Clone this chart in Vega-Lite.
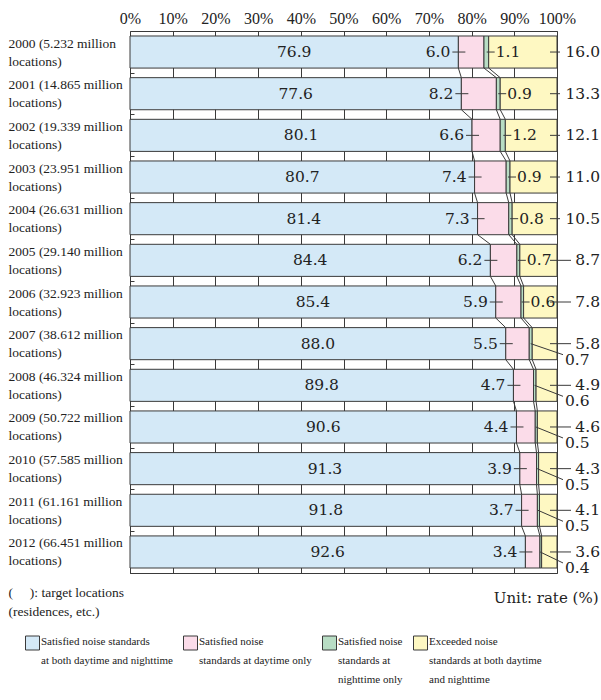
{
  "$schema": "https://vega.github.io/schema/vega-lite/v6.json",
  "width": 427,
  "height": 542,
  "autosize": {"type": "none"},
  "padding": {"left": 130, "top": 31, "right": 44, "bottom": 127},
  "background": "white",
  "config": {"view": {"stroke": "#3a3a3a", "strokeWidth": 1}, "font": "'Liberation Serif', Tinos, 'Times New Roman', serif"},
  "data": {"values": [
    {"year": 2000, "yr": "2000 (5.232 million locations)", "cat": "c1", "v": 76.9},
    {"year": 2000, "yr": "2000 (5.232 million locations)", "cat": "c2", "v": 6.0},
    {"year": 2000, "yr": "2000 (5.232 million locations)", "cat": "c3", "v": 1.1},
    {"year": 2000, "yr": "2000 (5.232 million locations)", "cat": "c4", "v": 16.0},
    {"year": 2001, "yr": "2001 (14.865 million locations)", "cat": "c1", "v": 77.6},
    {"year": 2001, "yr": "2001 (14.865 million locations)", "cat": "c2", "v": 8.2},
    {"year": 2001, "yr": "2001 (14.865 million locations)", "cat": "c3", "v": 0.9},
    {"year": 2001, "yr": "2001 (14.865 million locations)", "cat": "c4", "v": 13.3},
    {"year": 2002, "yr": "2002 (19.339 million locations)", "cat": "c1", "v": 80.1},
    {"year": 2002, "yr": "2002 (19.339 million locations)", "cat": "c2", "v": 6.6},
    {"year": 2002, "yr": "2002 (19.339 million locations)", "cat": "c3", "v": 1.2},
    {"year": 2002, "yr": "2002 (19.339 million locations)", "cat": "c4", "v": 12.1},
    {"year": 2003, "yr": "2003 (23.951 million locations)", "cat": "c1", "v": 80.7},
    {"year": 2003, "yr": "2003 (23.951 million locations)", "cat": "c2", "v": 7.4},
    {"year": 2003, "yr": "2003 (23.951 million locations)", "cat": "c3", "v": 0.9},
    {"year": 2003, "yr": "2003 (23.951 million locations)", "cat": "c4", "v": 11.0},
    {"year": 2004, "yr": "2004 (26.631 million locations)", "cat": "c1", "v": 81.4},
    {"year": 2004, "yr": "2004 (26.631 million locations)", "cat": "c2", "v": 7.3},
    {"year": 2004, "yr": "2004 (26.631 million locations)", "cat": "c3", "v": 0.8},
    {"year": 2004, "yr": "2004 (26.631 million locations)", "cat": "c4", "v": 10.5},
    {"year": 2005, "yr": "2005 (29.140 million locations)", "cat": "c1", "v": 84.4},
    {"year": 2005, "yr": "2005 (29.140 million locations)", "cat": "c2", "v": 6.2},
    {"year": 2005, "yr": "2005 (29.140 million locations)", "cat": "c3", "v": 0.7},
    {"year": 2005, "yr": "2005 (29.140 million locations)", "cat": "c4", "v": 8.7},
    {"year": 2006, "yr": "2006 (32.923 million locations)", "cat": "c1", "v": 85.4},
    {"year": 2006, "yr": "2006 (32.923 million locations)", "cat": "c2", "v": 5.9},
    {"year": 2006, "yr": "2006 (32.923 million locations)", "cat": "c3", "v": 0.6},
    {"year": 2006, "yr": "2006 (32.923 million locations)", "cat": "c4", "v": 7.8},
    {"year": 2007, "yr": "2007 (38.612 million locations)", "cat": "c1", "v": 88.0},
    {"year": 2007, "yr": "2007 (38.612 million locations)", "cat": "c2", "v": 5.5},
    {"year": 2007, "yr": "2007 (38.612 million locations)", "cat": "c3", "v": 0.7},
    {"year": 2007, "yr": "2007 (38.612 million locations)", "cat": "c4", "v": 5.8},
    {"year": 2008, "yr": "2008 (46.324 million locations)", "cat": "c1", "v": 89.8},
    {"year": 2008, "yr": "2008 (46.324 million locations)", "cat": "c2", "v": 4.7},
    {"year": 2008, "yr": "2008 (46.324 million locations)", "cat": "c3", "v": 0.6},
    {"year": 2008, "yr": "2008 (46.324 million locations)", "cat": "c4", "v": 4.9},
    {"year": 2009, "yr": "2009 (50.722 million locations)", "cat": "c1", "v": 90.6},
    {"year": 2009, "yr": "2009 (50.722 million locations)", "cat": "c2", "v": 4.4},
    {"year": 2009, "yr": "2009 (50.722 million locations)", "cat": "c3", "v": 0.5},
    {"year": 2009, "yr": "2009 (50.722 million locations)", "cat": "c4", "v": 4.6},
    {"year": 2010, "yr": "2010 (57.585 million locations)", "cat": "c1", "v": 91.3},
    {"year": 2010, "yr": "2010 (57.585 million locations)", "cat": "c2", "v": 3.9},
    {"year": 2010, "yr": "2010 (57.585 million locations)", "cat": "c3", "v": 0.5},
    {"year": 2010, "yr": "2010 (57.585 million locations)", "cat": "c4", "v": 4.3},
    {"year": 2011, "yr": "2011 (61.161 million locations)", "cat": "c1", "v": 91.8},
    {"year": 2011, "yr": "2011 (61.161 million locations)", "cat": "c2", "v": 3.7},
    {"year": 2011, "yr": "2011 (61.161 million locations)", "cat": "c3", "v": 0.5},
    {"year": 2011, "yr": "2011 (61.161 million locations)", "cat": "c4", "v": 4.1},
    {"year": 2012, "yr": "2012 (66.451 million locations)", "cat": "c1", "v": 92.6},
    {"year": 2012, "yr": "2012 (66.451 million locations)", "cat": "c2", "v": 3.4},
    {"year": 2012, "yr": "2012 (66.451 million locations)", "cat": "c3", "v": 0.4},
    {"year": 2012, "yr": "2012 (66.451 million locations)", "cat": "c4", "v": 3.6}
  ]},
  "encoding": {
    "y": {
      "field": "yr", "type": "nominal", "sort": "ascending",
      "scale": {"paddingInner": 0.23, "paddingOuter": 0.12},
      "axis": {
        "title": ["(\u00a0\u00a0\u00a0\u00a0\u00a0): target locations", "(residences, etc.)"],
        "titleAngle": 0, "titleAlign": "left", "titleBaseline": "top",
        "titleX": -122, "titleY": 554, "titleFontSize": 13.5,
        "titleFontWeight": "normal", "titleColor": "#222", "titleLineHeight": 19,
        "labelExpr": "[replace(datum.label, ' locations)', ''), 'locations)']",
        "labelAlign": "left", "labelBaseline": "middle", "labelLineHeight": 18,
        "labelPadding": 126, "labelFontSize": 13.5, "labelColor": "#222",
        "labelLimit": 200, "labelOffset": -29.8, "tickOffset": 20.8,
        "domain": false, "grid": false, "ticks": true, "tickSize": -4,
        "tickColor": "#3a3a3a", "tickWidth": 1
      }
    }
  },
  "layer": [
    {
      "mark": {"type": "bar", "stroke": "#3a3a3a", "strokeWidth": 1},
      "encoding": {
        "x": {
          "field": "v", "type": "quantitative", "stack": "normalize",
          "scale": {"domain": [0, 1], "nice": false},
          "axis": {
            "orient": "top", "values": [0, 0.1, 0.2, 0.3, 0.4, 0.5, 0.6, 0.7, 0.8, 0.9, 1],
            "format": ".0%", "grid": true, "gridColor": "#3a3a3a", "gridOpacity": 1, "gridWidth": 1,
            "ticks": false, "domain": false, "labelFlush": false,
            "labelFontSize": 16, "labelColor": "#222", "labelPadding": 5,
            "title": "Unit: rate (%)", "titleX": 468, "titleY": 566, "titleAlign": "right",
            "titleAnchor": null, "titleBaseline": "middle", "titleFont": "DejaVu Serif", "titleFontSize": 15,
            "titleFontWeight": "normal", "titleColor": "#222"
          }
        },
        "color": {
          "field": "cat", "type": "nominal",
          "scale": {"domain": ["c1", "c2", "c3", "c4"], "range": ["#d4e9f7", "#fbdce9", "#b8ddc4", "#fef8c2"]},
          "legend": {
            "orient": "none", "legendX": -105, "legendY": 605, "direction": "horizontal", "columns": 4,
            "title": null, "symbolType": "square", "symbolSize": 196, "symbolStrokeColor": "#3a3a3a",
            "symbolStrokeWidth": 1, "symbolOpacity": 1,
            "labelExpr": "datum.label == 'c1' ? ['Satisfied noise standards', 'at both daytime and nighttime', '\u00a0'] : datum.label == 'c2' ? ['Satisfied noise', 'standards at daytime only', '\u00a0'] : datum.label == 'c3' ? ['Satisfied noise', 'standards at', 'nighttime only'] : ['Exceeded noise', 'standards at both daytime', ' and nighttime']",
            "labelFontSize": 11, "labelColor": "#222",
            "labelBaseline": "top", "labelLimit": 400, "labelOffset": 1,
            "columnPadding": 8,
            "encode": {
              "symbols": {"update": {"y": {"value": 7}}},
              "labels": {"update": {"y": {"value": 0}, "baseline": {"value": "top"}, "lineHeight": {"value": 19}}}
            }
          }
        },
        "order": {"field": "cat", "type": "ordinal", "sort": "ascending"}
      }
    },
    {
      "transform": [
        {"stack": "v", "groupby": ["yr"], "sort": [{"field": "cat"}], "as": ["s0", "s1"], "offset": "normalize"},
        {"window": [{"op": "lead", "field": "s1", "as": "n1"}, {"op": "lead", "field": "yr", "as": "nyr"}],
         "groupby": ["cat"], "sort": [{"field": "year", "order": "ascending"}]},
        {"filter": "datum.cat != 'c4' && isValid(datum.nyr)"}
      ],
      "mark": {"type": "rule", "stroke": "#3a3a3a", "strokeWidth": 1, "yOffset": 16, "y2Offset": -16},
      "encoding": {
        "x": {"field": "s1", "type": "quantitative"},
        "x2": {"field": "n1"},
        "y2": {"field": "nyr"}
      }
    },
    {
      "transform": [
        {"stack": "v", "groupby": ["yr"], "sort": [{"field": "cat"}], "as": ["s0", "s1"], "offset": "normalize"},
        {"filter": "datum.cat == 'c1'"},
        {"fold": ["s0", "s1"], "as": ["k", "p"]},
        {"aggregate": [{"op": "mean", "field": "p", "as": "mid"}], "groupby": ["yr", "v"]}
      ],
      "mark": {"type": "text", "font": "DejaVu Serif", "fontSize": 15.5, "fill": "#222", "baseline": "middle"},
      "encoding": {
        "x": {"field": "mid", "type": "quantitative"},
        "text": {"field": "v", "type": "quantitative", "format": ".1f"}
      }
    },
    {
      "transform": [
        {"stack": "v", "groupby": ["yr"], "sort": [{"field": "cat"}], "as": ["s0", "s1"], "offset": "normalize"},
        {"filter": "datum.cat == 'c2'"}
      ],
      "layer": [
        {
          "mark": {"type": "rule", "stroke": "#3a3a3a", "strokeWidth": 1, "xOffset": -6, "x2Offset": 7},
          "encoding": {"x": {"field": "s0", "type": "quantitative"}, "x2": {"field": "s0"}}
        },
        {
          "mark": {"type": "text", "font": "DejaVu Serif", "fontSize": 15.5, "fill": "#222", "align": "right", "baseline": "middle", "dx": -8},
          "encoding": {"x": {"field": "s0", "type": "quantitative"}, "text": {"field": "v", "type": "quantitative", "format": ".1f"}}
        }
      ]
    },
    {
      "transform": [
        {"stack": "v", "groupby": ["yr"], "sort": [{"field": "cat"}], "as": ["s0", "s1"], "offset": "normalize"},
        {"filter": "datum.cat == 'c3' && datum.year <= 2006"}
      ],
      "layer": [
        {
          "mark": {"type": "rule", "stroke": "#3a3a3a", "strokeWidth": 1, "xOffset": -2, "x2Offset": 6},
          "encoding": {"x": {"field": "s1", "type": "quantitative"}, "x2": {"field": "s1"}}
        },
        {
          "mark": {"type": "text", "font": "DejaVu Serif", "fontSize": 15.5, "fill": "#222", "align": "left", "baseline": "middle", "dx": 7},
          "encoding": {"x": {"field": "s1", "type": "quantitative"}, "text": {"field": "v", "type": "quantitative", "format": ".1f"}}
        }
      ]
    },
    {
      "transform": [
        {"stack": "v", "groupby": ["yr"], "sort": [{"field": "cat"}], "as": ["s0", "s1"], "offset": "normalize"},
        {"filter": "datum.cat == 'c3' && datum.year >= 2007"}
      ],
      "layer": [
        {
          "mark": {"type": "rule", "stroke": "#3a3a3a", "strokeWidth": 1, "xOffset": -1.5, "x2Offset": 6, "y2Offset": 11},
          "encoding": {"x": {"field": "s1", "type": "quantitative"}, "x2": {"datum": 1}, "y2": {"field": "yr"}}
        },
        {
          "mark": {"type": "text", "font": "DejaVu Serif", "fontSize": 15.5, "fill": "#222", "align": "left", "baseline": "middle", "dx": 8, "dy": 16},
          "encoding": {"x": {"datum": 1, "type": "quantitative"}, "text": {"field": "v", "type": "quantitative", "format": ".1f"}}
        }
      ]
    },
    {
      "transform": [
        {"stack": "v", "groupby": ["yr"], "sort": [{"field": "cat"}], "as": ["s0", "s1"], "offset": "normalize"},
        {"filter": "datum.cat == 'c4'"}
      ],
      "layer": [
        {
          "transform": [{"filter": "datum.v >= 10"}],
          "mark": {"type": "rule", "stroke": "#3a3a3a", "strokeWidth": 1, "xOffset": -7, "x2Offset": 3},
          "encoding": {"x": {"field": "s1", "type": "quantitative"}, "x2": {"field": "s1"}}
        },
        {
          "transform": [{"filter": "datum.v < 10"}],
          "mark": {"type": "rule", "stroke": "#3a3a3a", "strokeWidth": 1, "xOffset": -7, "x2Offset": 14},
          "encoding": {"x": {"field": "s1", "type": "quantitative"}, "x2": {"field": "s1"}}
        },
        {
          "mark": {"type": "text", "font": "DejaVu Serif", "fontSize": 15.5, "fill": "#222", "align": "right", "baseline": "middle", "dx": 43},
          "encoding": {"x": {"field": "s1", "type": "quantitative"}, "text": {"field": "v", "type": "quantitative", "format": ".1f"}}
        }
      ]
    }
  ]
}
